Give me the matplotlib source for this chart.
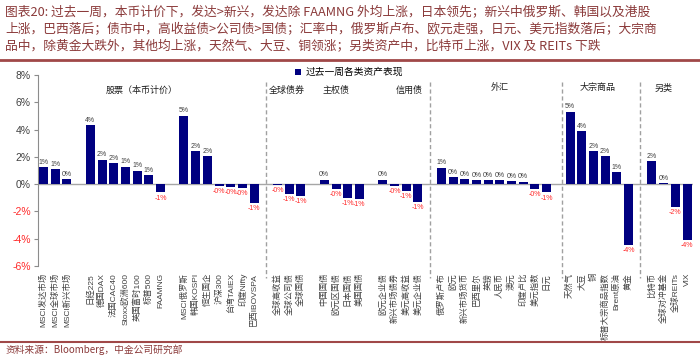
import matplotlib
matplotlib.use("Agg")
import matplotlib.pyplot as plt
from matplotlib.patches import Patch
from matplotlib.lines import Line2D

plt.rcParams['font.family'] = ['Liberation Sans', 'Noto Sans CJK SC']

# weekly performance of each asset (%)
msci_names = ["MSCI发达市场", "MSCI全球市场", "MSCI新兴市场"]
msci_vals = [1.24, 1.12, 0.37]
dm_names = ["日经225", "德国DAX", "法国CAC40", "Stoxx欧洲600", "英国富时100", "标普500", "FAAMNG"]
dm_vals = [4.34, 1.80, 1.54, 1.27, 0.98, 0.66, -0.61]
em_names = ["MSCI俄罗斯", "韩国KOSPI", "恒生国企", "沪深300", "台湾TAIEX", "印度Nifty", "巴西IBOVSPA"]
em_vals = [5.03, 2.42, 2.03, -0.12, -0.24, -0.30, -1.39]
gbond_names = ["全球高收益", "全球公司债", "全球国债"]
gbond_vals = [-0.07, -0.73, -0.85]
sov_names = ["中国国债", "欧元区国债", "日本国债", "美国国债"]
sov_vals = [0.32, -0.32, -1.00, -1.07]
credit_names = ["欧元企业债", "新兴市场债券", "美元高收益", "美元企业债"]
credit_vals = [0.32, -0.10, -0.51, -1.34]
fx_names = ["俄罗斯卢布", "欧元", "新兴市场货币", "巴西里尔", "英镑", "人民币", "澳元", "印度卢比", "美元指数", "日元"]
fx_vals = [1.20, 0.49, 0.37, 0.29, 0.29, 0.29, 0.22, 0.17, -0.34, -0.61]
cmd_names = ["天然气", "大豆", "铜", "标普大宗商品指数", "Brent原油", "黄金"]
cmd_vals = [5.32, 3.88, 2.42, 2.05, 0.90, -4.47]
alt_names = ["比特币", "全球对冲基金", "全球REITs", "VIX"]
alt_vals = [1.68, 0.07, -1.68, -4.12]

group_titles = ["股票（本币计价）", "全球债券", "主权债", "信用债", "外汇", "大宗商品", "另类"]
y_ticks = [-6, -4, -2, 0, 2, 4, 6, 8]

title = ("图表20: 过去一周，本币计价下，发达>新兴，发达除 FAAMNG 外均上涨，日本领先；新兴中俄罗斯、韩国以及港股\n"
         "上涨，巴西落后；债市中，高收益债>公司债>国债；汇率中，俄罗斯卢布、欧元走强，日元、美元指数落后；大宗商\n"
         "品中，除黄金大跌外，其他均上涨，天然气、大豆、铜领涨；另类资产中，比特币上涨，VIX 及 REITs 下跌")
source = "资料来源：Bloomberg，中金公司研究部"

blocks = [(msci_names, msci_vals), (dm_names, dm_vals), (em_names, em_vals),
          (gbond_names, gbond_vals), (sov_names, sov_vals), (credit_names, credit_vals),
          (fx_names, fx_vals), (cmd_names, cmd_vals), (alt_names, alt_vals)]

# one empty slot between blocks
names, vals, xs, gaps = [], [], [], []
pos = 0
for n, v in blocks:
    for a, b in zip(n, v):
        names.append(a)
        vals.append(b)
        xs.append(pos)
        pos += 1
    gaps.append(pos)
    pos += 1

brown = '#8B3A3A'
navy = '#000080'
red = '#FF2A2A'
grey_txt = '#404040'

fig = plt.figure(figsize=(7, 3.55), dpi=100)
ax = fig.add_axes([0.0538, 0.2507, 0.936, 0.538])

ax.bar(xs, vals, width=0.77, color=navy, zorder=3)
ax.axhline(0, color='#A6A6A6', lw=1, zorder=2)

for x, v in zip(xs, vals):
    if v >= 0:
        ax.text(x, v + 0.1, f"{v:.0f}%", ha='center', va='bottom', fontsize=5, color=grey_txt)
    else:
        ax.text(x, v - 0.15, f"{v:.0f}%", ha='center', va='top', fontsize=5, color=red)

# dashed separators between asset classes
for g in [gaps[2], gaps[5], gaps[6] + 0.3, gaps[7]]:
    ax.plot([g, g], [7.5, -6.9], ls=(0, (3, 2)), color='#A0A0A0', lw=1, clip_on=False)

title_x = [8.4, 20.8, 25.0, 31.3, 39.0, 47.4, 53.0]
title_y = [6.9, 6.85, 6.85, 6.85, 7.05, 7.05, 7.05]
for t, x, y in zip(group_titles, title_x, title_y):
    ax.text(x, y, t, ha='center', va='center', fontsize=6.5, color='#202020')

ax.set_xlim(-0.5, pos - 1.5)
ax.set_ylim(-6, 8)
ax.set_xticks(xs)
ax.set_xticklabels(names, rotation=90, fontsize=6, color=grey_txt)
ax.tick_params(axis='x', length=0, pad=5)
ax.set_yticks(y_ticks)
ax.set_yticklabels([f"{t}%" for t in y_ticks], fontsize=7.5)
for lab, t in zip(ax.get_yticklabels(), y_ticks):
    lab.set_color(red if t < 0 else grey_txt)
ax.tick_params(axis='y', length=3, color='#8C8C8C', pad=2)
for s in ['top', 'right', 'bottom']:
    ax.spines[s].set_visible(False)
ax.spines['left'].set_color('#8C8C8C')

fig.legend(handles=[Patch(facecolor=navy, label='过去一周各类资产表现')],
           loc='center', bbox_to_anchor=(0.499, 0.797), frameon=False,
           fontsize=7, handlelength=0.6, handleheight=0.6, handletextpad=0.5)

fig.text(0.007, 0.985, title, ha='left', va='top', fontsize=9.2, color=brown,
         linespacing=1.42, family=['Noto Sans CJK SC', 'DejaVu Sans'])
fig.add_artist(Line2D([0, 1], [1 - 60 / 355] * 2, color='#A04848', lw=2))
fig.add_artist(Line2D([0, 1], [1 - 341.5 / 355] * 2, color='#A04848', lw=1.5))
fig.text(0.008, 1 - 350 / 355, source, ha='left', va='center', fontsize=7, color=brown,
         family=['Noto Sans CJK SC', 'DejaVu Sans'])

fig.savefig('out.png', dpi=100)
